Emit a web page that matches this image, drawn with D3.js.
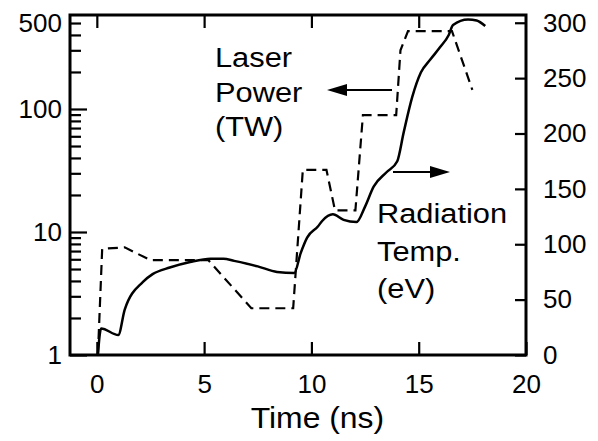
<!DOCTYPE html>
<html>
<head>
<meta charset="utf-8">
<script src="https://cdn.jsdelivr.net/npm/d3@7"></script>
</head>
<body style="margin:0; background:#fff">
<div id="chart"></div>
<script>
const w = 598;
const h = 441;

// laser power (TW), dashed, left log axis
const laserTime = [0.05, 0.25, 1.3, 2.5, 5.2, 7.2, 9.15, 9.6, 10.7, 11.1, 12.05, 12.4, 13.95, 14.15, 14.5, 16.55, 17.5];
const laserPower = [1, 7.3, 7.5, 5.9, 5.9, 2.4, 2.4, 32, 32, 15, 15, 89, 89, 300, 430, 430, 143];

// radiation temperature (eV), solid, right axis
const tempTime = [0.05, 0.2, 1.0, 1.3, 2.15, 2.6, 3.4, 4.35, 5.3, 5.9, 6.4, 7.5, 8.4, 9.2, 9.5, 9.8, 10.3, 10.5, 11.0, 11.5, 12.1, 12.5, 12.9, 13.5, 14.0, 14.3, 14.7, 15.1, 15.55, 16.0, 16.4, 16.6, 17.3, 17.7, 18.1];
const tempValue = [0, 24, 18, 41, 66, 73, 79, 84, 87, 87, 85, 80, 75, 74, 92, 106, 116, 121, 127, 122, 120, 134, 152, 165, 175, 201, 233, 255, 267, 278, 289, 298, 303, 302, 297];

const timeTicks = [0, 5, 10, 15, 20];
const powerMajor = [1, 10, 100];
const powerMinor = [2, 3, 4, 5, 6, 7, 8, 9, 20, 30, 40, 50, 60, 70, 80, 90, 200, 300, 400, 500];
const tempTicks = [0, 50, 100, 150, 200, 250, 300];

const box = { l: 70, r: 526, t: 15, b: 355 };
const font = "'Liberation Sans', Arial, Helvetica, sans-serif";

const svg = d3.select("#chart").append("svg").attr("width", w).attr("height", h);

const x = d3.scaleLinear().domain([-1.25, 20]).range([box.l, box.r]);
const yL = d3.scaleLog().domain([1, 581]).range([box.b, box.t]);
const yR = d3.scaleLinear().domain([0, 307]).range([box.b, box.t]);

// frame
svg.append("path")
  .attr("d", `M${box.l},${box.t}H${box.r}V${box.b}H${box.l}Z`)
  .attr("fill", "none").attr("stroke", "#000").attr("stroke-width", 3);

// axes
const styleAxis = (g) => {
  g.attr("font-family", font).attr("font-size", 26);
  g.select(".domain").remove();
  g.selectAll(".tick line").attr("stroke", "#000").attr("stroke-width", 2.2);
  g.selectAll(".tick text").attr("fill", "#000");
};

svg.append("g")
  .attr("transform", `translate(0,${box.b})`)
  .call(d3.axisBottom(x).tickValues(timeTicks).tickSizeInner(-13).tickSizeOuter(0).tickPadding(20))
  .call(styleAxis);

svg.append("g")
  .attr("transform", `translate(0,${box.t})`)
  .call(d3.axisTop(x).tickValues([0, 5, 10, 15]).tickSizeInner(-13).tickSizeOuter(0).tickFormat(""))
  .call(styleAxis);

svg.append("g")
  .attr("transform", `translate(${box.l},0)`)
  .call(d3.axisLeft(yL).tickValues(powerMajor).tickSizeInner(-17).tickSizeOuter(0).tickPadding(8).tickFormat(d3.format("d")))
  .call(styleAxis);
svg.append("g")
  .attr("transform", `translate(${box.l},0)`)
  .call(d3.axisLeft(yL).tickValues(powerMinor).tickSizeInner(-11).tickSizeOuter(0).tickPadding(8)
    .tickFormat((d) => (d === 500 ? "500" : "")))
  .call(styleAxis);

svg.append("g")
  .attr("transform", `translate(${box.r},0)`)
  .call(d3.axisRight(yR).tickValues(tempTicks).tickSizeInner(-11).tickSizeOuter(0).tickPadding(17))
  .call(styleAxis);

// curves
const laserLine = d3.line()
  .x((d, i) => x(laserTime[i]))
  .y((d) => yL(d));
svg.append("path")
  .attr("d", laserLine(laserPower))
  .attr("fill", "none").attr("stroke", "#000").attr("stroke-width", 2.2)
  .attr("stroke-dasharray", "10,6");

const tempLine = d3.line()
  .x((d, i) => x(tempTime[i]))
  .y((d) => yR(d))
  .curve(d3.curveMonotoneX);
svg.append("path")
  .attr("d", tempLine(tempValue))
  .attr("fill", "none").attr("stroke", "#000").attr("stroke-width", 2.5)
  .attr("stroke-linejoin", "round");

// arrows, drawn as line + triangle
const arrow = (xa, xb, yy) => {
  const dir = Math.sign(xb - xa);
  svg.append("line")
    .attr("x1", xa).attr("y1", yy).attr("x2", xb - dir * 18).attr("y2", yy)
    .attr("stroke", "#000").attr("stroke-width", 2);
  svg.append("path")
    .attr("d", `M${xb},${yy}L${xb - dir * 20},${yy - 6}L${xb - dir * 20},${yy + 6}Z`)
    .attr("fill", "#000");
};
arrow(392, 327, 90);
arrow(393, 450, 172);

// labels
const label = (txt, px, py, size, sx, anchor) => {
  svg.append("text")
    .attr("transform", `translate(${px},${py}) scale(${sx},1)`)
    .attr("font-family", font)
    .attr("font-size", size)
    .attr("text-anchor", anchor || "start")
    .attr("fill", "#000")
    .text(txt);
};
label("Laser", 215, 67, 28, 1.1);
label("Power", 215, 102, 28, 1.1);
label("(TW)", 215, 136, 28, 1.1);
label("Radiation", 377, 223, 28, 1.1);
label("Temp.", 377, 261, 28, 1.1);
label("(eV)", 377, 298, 28, 1.1);
label("Time (ns)", (x(0) + x(20)) / 2 + 6, 428, 29, 1.1, "middle");
</script>
</body>
</html>
